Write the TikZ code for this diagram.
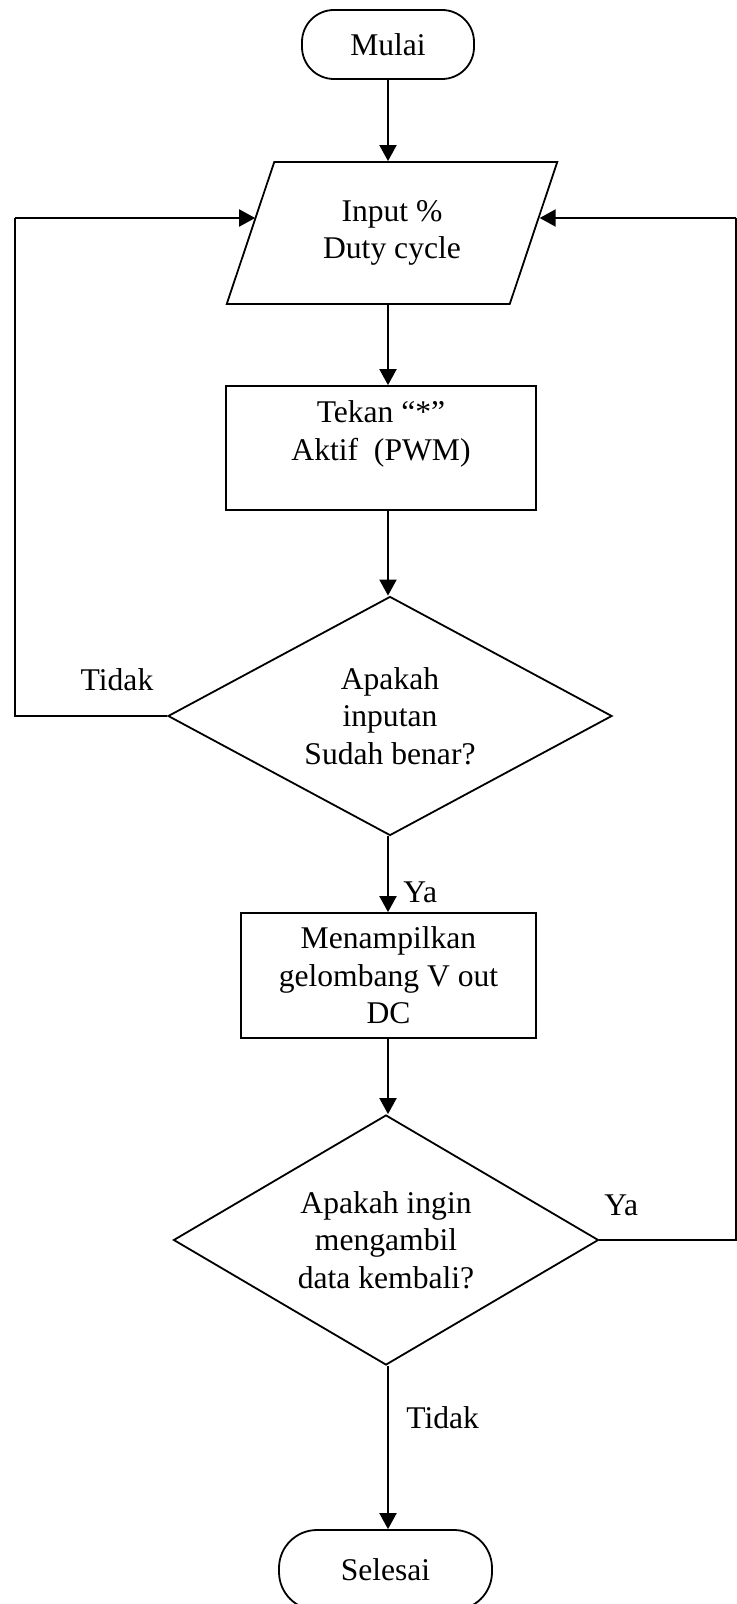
\documentclass[tikz,border=0pt]{standalone}
\usepackage{fontspec}
\setmainfont{Liberation Serif}
\usetikzlibrary{shapes.geometric}
\usetikzlibrary{arrows.meta}
\tikzstyle{terminal}=[draw, line width=0.9pt, rectangle, rounded corners=16pt, minimum width=86pt, minimum height=34.5pt]
\tikzstyle{io}=[draw, line width=0.9pt, trapezium, trapezium left angle=67, trapezium right angle=113, trapezium stretches=true, minimum width=166pt, minimum height=71pt, inner sep=0pt, align=center]
\tikzstyle{proses}=[draw, line width=0.9pt, rectangle, align=center]
\tikzstyle{keputusan}=[draw, line width=0.9pt, diamond, aspect=1.8, inner sep=0pt, align=center]
\tikzstyle{garis}=[line width=1pt, -{Triangle[length=8pt, width=8.5pt]}]
\tikzstyle{polos}=[line width=1pt]

\begin{document}
\begin{tikzpicture}[x=0.5pt, y=-0.5pt, font=\fontsize{15.8}{18.8}\selectfont]
  \useasboundingbox (0,0) rectangle (737,1604);
  \coordinate (sumbu) at (388,0);
  \node[terminal] (mulai) at (388,44.5) {Mulai};
  \node[io] (input) at (392,233) {Input \%\\Duty cycle};
  \node[proses, minimum width=155pt, minimum height=62pt,
    label={[align=center, yshift=7pt]center:Tekan “*”\\Aktif\ \ (PWM)}] (tekan) at (381,448) {};
  \node[keputusan, minimum width=222pt, minimum height=119.5pt] (cek) at (390,716) {Apakah\\inputan\\Sudah benar?};
  \node[proses, minimum width=147.5pt, minimum height=62.5pt] (tampil) at (388.5,975.5) {Menampilkan\\gelombang V out\\DC};
  \node[keputusan, minimum width=212.5pt, minimum height=125pt] (ulang) at (386,1240) {Apakah ingin\\mengambil\\data kembali?};
  \node[terminal, minimum width=106.5pt, minimum height=40pt, rounded corners=19pt] (selesai) at (385.5,1570) {Selesai};

  \node (tidak1) at (117,680) {Tidak};
  \node[anchor=west, inner sep=0pt] (ya1) at (403,892) {Ya};
  \node[anchor=west, inner sep=0pt] (ya2) at (604,1205) {Ya};
  \node[anchor=west, inner sep=0pt] (tidak2) at (406,1418) {Tidak};

  \coordinate (kiri) at (15,218);
  \coordinate (kanan) at (735.5,218);

  \draw[garis] (sumbu |- mulai.south) -- (sumbu |- input.north);
  \draw[garis] (sumbu |- input.south) -- (sumbu |- tekan.north);
  \draw[garis] (sumbu |- tekan.south) -- (sumbu |- cek.north);
  \draw[garis] (sumbu |- cek.south) -- (sumbu |- tampil.north);
  \draw[garis] (sumbu |- tampil.south) -- (sumbu |- ulang.north);
  \draw[garis] (sumbu |- ulang.south) -- (sumbu |- selesai.north);
  \draw[polos] (cek.west) -| (kiri);
  \draw[garis] (kiri) -- (kiri -| input.173);
  \draw[polos] (ulang.east) -| (kanan);
  \draw[garis] (kanan) -- (kanan -| input.6);
\end{tikzpicture}
\end{document}
